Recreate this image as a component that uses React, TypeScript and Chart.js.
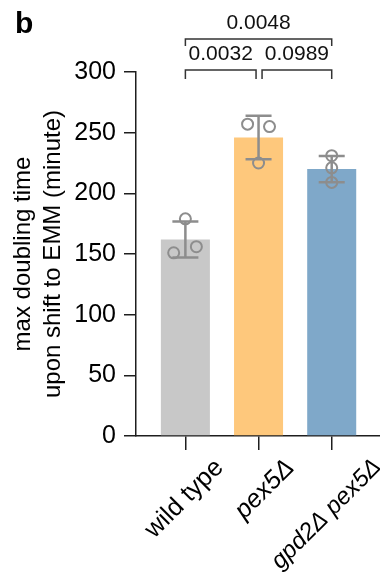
import React, { useEffect, useRef } from 'react';
import { Chart, registerables } from 'chart.js';

Chart.register(...registerables);

// ---- data ----
const categories = ['wild type', 'pex5Δ', 'gpd2Δ pex5Δ'];
const italicLabel = [false, true, true];
const means = [162, 246, 220];
const sds = [14.8, 18, 10.8];
const wildTypeReps = [151, 179, 156];
const pex5Reps = [257, 225, 255];
const gpd2pex5Reps = [231, 221, 209];
const replicates = [wildTypeReps, pex5Reps, gpd2pex5Reps];
const jitter = [
  [-0.16, 0, 0.15],
  [-0.15, 0, 0.15],
  [0, 0, 0],
];
const barColors = ['#c8c8c8', '#fec87c', '#7fa8c9'];
const yTickValues = [0, 50, 100, 150, 200, 250, 300];
const compareA = [0, 1, 0];
const compareB = [1, 2, 2];
const compareLevel = [0, 0, 1];
const pValues = ['0.0032', '0.0989', '0.0048'];
const panelLetter = 'b';
const yTitle = ['max doubling time', 'upon shift to EMM (minute)'];
// label placement / size (style)
const labelShift = [-0.04, -0.07, 0.12];
const labelSizes = [25.5, 25.5, 24];

const FONT = "'Liberation Sans', Arial, sans-serif";
const AXIS = '#1e1e1e';
const ERR = '#8d8d8d';
const X_MIN = -0.675;
const X_MAX = 2.66;

const overlayPlugin = {
  id: 'overlay',
  afterDatasetsDraw(chart: any) {
    const { ctx, scales } = chart;
    const x = scales.x;
    const y = scales.y;
    ctx.save();
    ctx.strokeStyle = ERR;
    ctx.lineWidth = 2.5;
    ctx.lineCap = 'butt';
    means.forEach((m, i) => {
      const cx = x.getPixelForValue(i);
      const t = y.getPixelForValue(m + sds[i]);
      const b = y.getPixelForValue(m - sds[i]);
      ctx.beginPath();
      ctx.moveTo(cx, t);
      ctx.lineTo(cx, b);
      ctx.moveTo(cx - 13, t);
      ctx.lineTo(cx + 13, t);
      ctx.moveTo(cx - 13, b);
      ctx.lineTo(cx + 13, b);
      ctx.stroke();
    });
    ctx.restore();
  },
  afterDraw(chart: any) {
    const { ctx, chartArea, scales } = chart;
    const x = scales.x;
    const top = chartArea.top;
    ctx.save();
    ctx.strokeStyle = '#333';
    ctx.lineWidth = 1.5;
    ctx.fillStyle = '#111';
    ctx.font = `21px ${FONT}`;
    ctx.textAlign = 'center';
    ctx.textBaseline = 'alphabetic';
    pValues.forEach((p, k) => {
      const a = compareA[k];
      const b = compareB[k];
      let x1 = x.getPixelForValue(a);
      let x2 = x.getPixelForValue(b);
      const lvl = compareLevel[k];
      if (lvl === 0) {
        if (a === 1) x1 += 3.5;
        if (b === 1) x2 -= 2.5;
      }
      const yb = lvl === 0 ? top - 2 : top - 33;
      const drop = lvl === 0 ? 9 : 7;
      ctx.beginPath();
      ctx.moveTo(x1, yb + drop);
      ctx.lineTo(x1, yb);
      ctx.lineTo(x2, yb);
      ctx.lineTo(x2, yb + drop);
      ctx.stroke();
      ctx.fillText(p, (x1 + x2) / 2, yb - 10);
    });
    ctx.font = `bold 30px ${FONT}`;
    ctx.textAlign = 'left';
    ctx.fillStyle = '#000';
    ctx.fillText(panelLetter, 15, 33);
    ctx.restore();
  },
};

export default function App() {
  const ref = useRef<HTMLCanvasElement | null>(null);

  useEffect(() => {
    if (!ref.current) return;
    const barData = means.map((m, i) => ({ x: i, y: m }));
    const pointData: { x: number; y: number }[] = [];
    replicates.forEach((reps, i) => {
      reps.forEach((v, j) => pointData.push({ x: i + jitter[i][j], y: v }));
    });

    const chart = new Chart(ref.current, {
      type: 'bar',
      data: {
        datasets: [
          {
            type: 'bar',
            data: barData,
            backgroundColor: barColors,
            borderWidth: 0,
            barPercentage: 0.67,
            categoryPercentage: 1,
            order: 2,
          } as any,
          {
            type: 'scatter',
            data: pointData,
            pointRadius: 5.5,
            pointBorderWidth: 2,
            borderColor: ERR,
            backgroundColor: 'rgba(0,0,0,0)',
            pointBackgroundColor: 'rgba(0,0,0,0)',
            pointBorderColor: ERR,
            showLine: false,
            clip: false,
            order: 1,
          } as any,
        ],
      },
      options: {
        animation: false,
        responsive: false,
        devicePixelRatio: 1,
        layout: { autoPadding: false, padding: { top: 72, right: 0, bottom: 0, left: 0 } },
        plugins: {
          legend: { display: false },
          tooltip: { enabled: false },
        },
        scales: {
          x: {
            type: 'linear',
            position: 'bottom',
            weight: 0,
            min: X_MIN,
            max: X_MAX,
            offset: false,
            afterBuildTicks: (scale: any) => {
              scale.ticks = categories.map((_, i) => ({ value: i }));
            },
            afterFit: (scale: any) => {
              scale.height = 14;
              scale.paddingRight = 0;
              scale.paddingLeft = 0;
            },
            grid: {
              offset: false,
              drawOnChartArea: false,
              drawTicks: true,
              tickLength: 14,
              tickColor: AXIS,
              tickWidth: 1.5,
              color: AXIS,
              lineWidth: 1.5,
            },
            border: { color: AXIS, width: 1.5 },
            ticks: {
              autoSkip: false,
              maxRotation: 0,
              padding: 0,
              callback: () => '',
            },
          } as any,
          xLabels: {
            type: 'linear',
            position: 'bottom',
            weight: 1,
            min: X_MIN,
            max: X_MAX,
            offset: false,
            afterBuildTicks: (scale: any) => {
              scale.ticks = categories.map((_, i) => ({ value: i + labelShift[i] }));
            },
            afterFit: (scale: any) => {
              scale.height = 123;
              scale.paddingRight = 0;
              scale.paddingLeft = 0;
            },
            grid: { display: false, drawTicks: false, drawOnChartArea: false },
            border: { display: false },
            ticks: {
              autoSkip: false,
              minRotation: 45,
              maxRotation: 45,
              labelOffset: 37,
              padding: 3,
              color: '#000',
              font: (c: any) => ({
                family: FONT,
                size: labelSizes[c.index],
                style: italicLabel[c.index] ? 'italic' : 'normal',
              }),
              callback: (_v: any, i: number) => categories[i] ?? '',
            },
          } as any,
          y: {
            type: 'linear',
            min: 0,
            max: 300,
            afterBuildTicks: (scale: any) => {
              scale.ticks = yTickValues.map((v) => ({ value: v }));
            },
            afterFit: (scale: any) => {
              scale.width = 136;
            },
            grid: {
              drawOnChartArea: false,
              drawTicks: true,
              tickLength: 12,
              tickColor: AXIS,
              tickWidth: 1.5,
              color: AXIS,
              lineWidth: 1.5,
            },
            border: { color: AXIS, width: 1.5 },
            ticks: {
              padding: 8,
              color: '#000',
              font: { family: FONT, size: 25 },
            },
            title: {
              display: true,
              text: yTitle,
              color: '#000',
              font: { family: FONT, size: 24, lineHeight: 1.22 },
              padding: { top: 9, bottom: 0 },
            },
          } as any,
        },
      },
      plugins: [overlayPlugin],
    });
    return () => chart.destroy();
  }, []);

  return (
    <div style={{ position: 'fixed', left: 0, top: 0, width: 380, height: 573, background: '#fff' }}>
      <canvas ref={ref} width={380} height={573} style={{ width: 380, height: 573, display: 'block' }} />
    </div>
  );
}
